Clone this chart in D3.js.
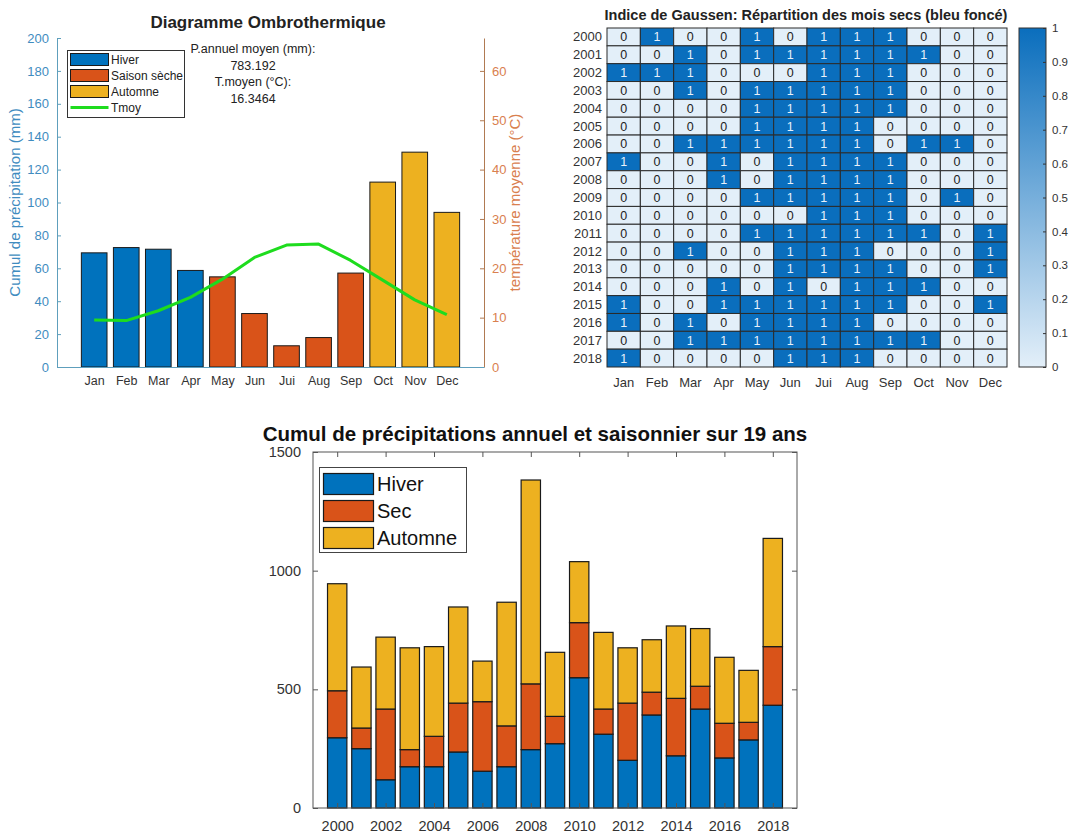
<!DOCTYPE html>
<html>
<head>
<meta charset="utf-8">
<script src="https://cdn.jsdelivr.net/npm/d3@7"></script>
<style>
  html, body { margin: 0; padding: 0; background: #fff; }
  svg { display: block; font-family: "Liberation Sans", Arial, sans-serif; }
</style>
</head>
<body>
<svg id="fig" width="1071" height="834"></svg>
<script>
// ---------- Data ----------
const months = ["Jan","Feb","Mar","Apr","May","Jun","Jui","Aug","Sep","Oct","Nov","Dec"];
const monthlyPrecip = [69.4, 72.6, 71.6, 58.7, 54.8, 32.5, 12.9, 17.9, 57.1, 112.4, 130.6, 94.0];
const monthlySeason = ["Hiver","Hiver","Hiver","Hiver","Sec","Sec","Sec","Sec","Sec","Automne","Automne","Automne"];
const monthlyTemp = [9.5, 9.4, 11.4, 14.1, 17.8, 22.2, 24.7, 24.9, 21.6, 17.6, 13.6, 10.6];
const annualMeanText = ["P.annuel moyen (mm):", "783.192", "T.moyen (°C):", "16.3464"];

const years = d3.range(2000, 2019);
// dry-month flags (1 = dry month) per year, Jan..Dec
const dryMonths = [
  [0,1,0,0,1,0,1,1,1,0,0,0],
  [0,0,1,0,1,1,1,1,1,1,0,0],
  [1,1,1,0,0,0,1,1,1,0,0,0],
  [0,0,1,0,1,1,1,1,1,0,0,0],
  [0,0,0,0,1,1,1,1,1,0,0,0],
  [0,0,0,0,1,1,1,1,0,0,0,0],
  [0,0,1,1,1,1,1,1,0,1,1,0],
  [1,0,0,1,0,1,1,1,1,0,0,0],
  [0,0,0,1,0,1,1,1,1,0,0,0],
  [0,0,0,0,1,1,1,1,1,0,1,0],
  [0,0,0,0,0,0,1,1,1,0,0,0],
  [0,0,0,0,1,1,1,1,1,1,0,1],
  [0,0,1,0,0,1,1,1,0,0,0,1],
  [0,0,0,0,0,1,1,1,1,0,0,1],
  [0,0,0,1,0,1,0,1,1,1,0,0],
  [1,0,0,1,1,1,1,1,1,0,0,1],
  [1,0,1,0,1,1,1,1,0,0,0,0],
  [0,0,1,1,1,1,1,1,1,1,0,0],
  [1,0,0,0,0,1,1,1,0,0,0,0]
];
const colorbarTicks = [0,0.1,0.2,0.3,0.4,0.5,0.6,0.7,0.8,0.9,1];

// seasonal precipitation totals per year (mm)
const hiverTotals   = [296,250,119,174,174,236,155,174,246,271,549,311,201,392,220,417,211,287,433];
const secTotals     = [198, 87,298, 72,128,206,293,172,277,115,232,106,241, 96,242, 96,146, 74,247];
const automneTotals = [451,257,303,429,378,405,171,521,859,270,257,323,233,221,305,243,278,219,456];
const seasonKeys = ["Hiver","Sec","Automne"];
const annualTicks = [0,500,1000,1500];

// ---------- Styles ----------
const C = { Hiver: "#0072BD", Sec: "#D95319", Automne: "#EDB120" };
const txt = "#333333";
const svg = d3.select("#fig");
svg.append("rect").attr("width",1071).attr("height",834).attr("fill","#fff");

// ================= Ombrothermic diagram =================
{
  const L = 57, R = 484, T = 38, B = 367;
  const x = d3.scaleLinear().domain([-0.16, 13.16]).range([L, R]);
  const yP = d3.scaleLinear().domain([0, 200]).range([B, T]);
  const yT = d3.scaleLinear().domain([0, 200/3]).range([B, T]);
  const g = svg.append("g");
  const blueAx = "#5E9FBC", blueTx = "#3F8CC0";
  const orAx = "#B07A52", orTx = "#D9804F";

  g.append("text").attr("x", 268).attr("y", 28).attr("text-anchor","middle")
    .attr("font-size", 17).attr("font-weight","bold").attr("fill","#222")
    .text("Diagramme Ombrothermique");

  const bw = 0.8;
  g.selectAll("rect.m").data(monthlyPrecip).join("rect")
    .attr("x", (d,i) => x(i + 1 - bw/2))
    .attr("width", (d,i) => x(i + 1 + bw/2) - x(i + 1 - bw/2))
    .attr("y", d => yP(d))
    .attr("height", d => yP(0) - yP(d))
    .attr("fill", (d,i) => C[monthlySeason[i]])
    .attr("stroke", "#1a1a1a").attr("stroke-width", 1);

  const line = d3.line().x((d,i) => x(i + 1)).y(d => yT(d));
  g.append("path").datum(monthlyTemp).attr("d", line)
    .attr("fill","none").attr("stroke","#1EDC1E").attr("stroke-width",3)
    .attr("stroke-linejoin","round");

  // left axis
  const axL = g.append("g").attr("transform", `translate(${L},0)`)
    .call(d3.axisLeft(yP).tickValues(d3.range(0, 201, 20)).tickSizeInner(-4).tickSizeOuter(0).tickPadding(8));
  axL.select(".domain").attr("stroke", blueAx);
  axL.selectAll(".tick line").attr("stroke", blueAx);
  axL.selectAll("text").attr("fill", blueTx).attr("font-size", 13).attr("font-family","Liberation Sans, Arial, sans-serif");

  // right axis
  const axR = g.append("g").attr("transform", `translate(${R},0)`)
    .call(d3.axisRight(yT).tickValues(d3.range(0, 61, 10)).tickSizeInner(-4).tickSizeOuter(0).tickPadding(8));
  axR.select(".domain").attr("stroke", orAx);
  axR.selectAll(".tick line").attr("stroke", orAx);
  axR.selectAll("text").attr("fill", orTx).attr("font-size", 13).attr("font-family","Liberation Sans, Arial, sans-serif");

  // bottom axis
  const axB = g.append("g").attr("transform", `translate(0,${B})`)
    .call(d3.axisBottom(x).tickValues(d3.range(1, 13)).tickFormat(i => months[i-1]).tickSize(0).tickPadding(9));
  axB.select(".domain").attr("stroke", blueAx);
  axB.selectAll("text").attr("fill", txt).attr("font-size", 12.5).attr("font-family","Liberation Sans, Arial, sans-serif");

  g.append("text").attr("transform", `translate(20,${(T+B)/2}) rotate(-90)`)
    .attr("text-anchor","middle").attr("font-size", 15).attr("fill", blueTx)
    .text("Cumul de précipitation (mm)");
  g.append("text").attr("transform", `translate(520,${(T+B)/2}) rotate(-90)`)
    .attr("text-anchor","middle").attr("font-size", 15).attr("fill", orTx)
    .text("température moyenne (°C)");

  // annotation
  annualMeanText.forEach((t, i) => {
    g.append("text").attr("x", 253).attr("y", 53 + i * 16.5).attr("text-anchor","middle")
      .attr("font-size", 12.5).attr("fill", "#222").text(t);
  });

  // legend
  const lg = g.append("g");
  lg.append("rect").attr("x", 67.5).attr("y", 50.5).attr("width", 117).attr("height", 67)
    .attr("fill","#fff").attr("stroke","#333").attr("stroke-width",1);
  const items = [["Hiver","Hiver"],["Saison sèche","Sec"],["Automne","Automne"]];
  items.forEach((it, i) => {
    const cy = 59.5 + i * 16;
    lg.append("rect").attr("x", 70.5).attr("y", cy - 6).attr("width", 38).attr("height", 12)
      .attr("fill", C[it[1]]).attr("stroke","#1a1a1a");
    lg.append("text").attr("x", 111).attr("y", cy + 4.5).attr("font-size", 12).attr("fill","#222").text(it[0]);
  });
  lg.append("line").attr("x1", 70.5).attr("x2", 108.5).attr("y1", 107.5).attr("y2", 107.5)
    .attr("stroke","#1EDC1E").attr("stroke-width",3);
  lg.append("text").attr("x", 111).attr("y", 112).attr("font-size", 12).attr("fill","#222").text("Tmoy");
}

// ================= Gaussen heatmap =================
{
  const L = 607, R = 1007, T = 28, B = 367;
  const x = d3.scaleBand().domain(months).range([L, R]);
  const y = d3.scaleBand().domain(years).range([T, B]);
  const col = d3.scaleLinear().domain([0, 1]).range(["#E3EFF9", "#0A6EBD"]);
  const g = svg.append("g");

  g.append("text").attr("x", 806).attr("y", 20).attr("text-anchor","middle")
    .attr("font-size", 14.5).attr("font-weight","bold").attr("fill","#222")
    .text("Indice de Gaussen: Répartition des mois secs (bleu foncé)");

  const cells = [];
  dryMonths.forEach((row, r) => row.forEach((v, c) => cells.push({ year: years[r], month: months[c], v })));
  g.selectAll("rect.cell").data(cells).join("rect")
    .attr("x", d => x(d.month)).attr("y", d => y(d.year))
    .attr("width", x.bandwidth()).attr("height", y.bandwidth())
    .attr("fill", d => col(d.v)).attr("stroke", "#2b2b2b").attr("stroke-width", 1);
  g.selectAll("text.cell").data(cells).join("text")
    .attr("x", d => x(d.month) + x.bandwidth()/2)
    .attr("y", d => y(d.year) + y.bandwidth()/2 + 4.5)
    .attr("text-anchor","middle").attr("font-size", 12.5)
    .attr("fill", d => d.v ? "#E8F1FA" : "#222").text(d => d.v);

  years.forEach(yr => g.append("text").attr("x", L - 5).attr("y", y(yr) + y.bandwidth()/2 + 4.5)
    .attr("text-anchor","end").attr("font-size", 13).attr("fill", txt).text(yr));
  months.forEach(m => g.append("text").attr("x", x(m) + x.bandwidth()/2).attr("y", B + 20)
    .attr("text-anchor","middle").attr("font-size", 13).attr("fill", txt).text(m));

  // colorbar
  const cbL = 1019, cbR = 1046;
  const cy = d3.scaleLinear().domain([0, 1]).range([B, T]);
  const defs = svg.append("defs");
  const grad = defs.append("linearGradient").attr("id","cbGrad")
    .attr("x1",0).attr("y1",1).attr("x2",0).attr("y2",0);
  grad.append("stop").attr("offset","0%").attr("stop-color", col(0));
  grad.append("stop").attr("offset","100%").attr("stop-color", col(1));
  g.append("rect").attr("x", cbL).attr("y", cy(1)).attr("width", cbR - cbL).attr("height", cy(0) - cy(1))
    .attr("fill","url(#cbGrad)").attr("stroke","#333").attr("stroke-width",1);
  const axC = g.append("g").attr("transform", `translate(${cbR},0)`)
    .call(d3.axisRight(cy).tickValues(colorbarTicks).tickFormat(d3.format("~g")).tickSizeInner(-3).tickSizeOuter(0).tickPadding(6));
  axC.select(".domain").remove();
  axC.selectAll(".tick line").attr("stroke","#333");
  axC.selectAll("text").attr("fill", txt).attr("font-size", 11.5).attr("font-family","Liberation Sans, Arial, sans-serif");
}

// ================= Annual stacked bars =================
{
  const L = 313, R = 797, T = 452, B = 808;
  const x = d3.scaleLinear().domain([1999, 2019]).range([L, R]);
  const y = d3.scaleLinear().domain([0, 1500]).range([B, T]);
  const g = svg.append("g");

  g.append("text").attr("x", 535).attr("y", 441).attr("text-anchor","middle")
    .attr("font-size", 20.5).attr("font-weight","bold").attr("fill","#111")
    .text("Cumul de précipitations annuel et saisonnier sur 19 ans");

  const rows = years.map((yr, i) => ({ year: yr, Hiver: hiverTotals[i], Sec: secTotals[i], Automne: automneTotals[i] }));
  const stacked = d3.stack().keys(seasonKeys)(rows);
  const bw = 0.8;
  stacked.forEach(layer => {
    g.selectAll(null).data(layer).join("rect")
      .attr("x", d => x(d.data.year - bw/2))
      .attr("width", x(2000 + bw/2) - x(2000 - bw/2))
      .attr("y", d => y(d[1]))
      .attr("height", d => y(d[0]) - y(d[1]))
      .attr("fill", C[layer.key]).attr("stroke","#1a1a1a").attr("stroke-width",1.2);
  });

  // box and axes
  const axStroke = "#555";
  g.append("rect").attr("x", L).attr("y", T).attr("width", R - L).attr("height", B - T)
    .attr("fill","none").attr("stroke", axStroke).attr("stroke-width",1);
  const xt = d3.range(2000, 2019, 2);
  const ax1 = g.append("g").attr("transform", `translate(0,${B})`)
    .call(d3.axisBottom(x).tickValues(xt).tickFormat(d3.format("d")).tickSizeInner(-5).tickSizeOuter(0).tickPadding(13));
  const ax2 = g.append("g").attr("transform", `translate(0,${T})`)
    .call(d3.axisTop(x).tickValues(xt).tickFormat("").tickSizeInner(-5).tickSizeOuter(0));
  const ax3 = g.append("g").attr("transform", `translate(${L},0)`)
    .call(d3.axisLeft(y).tickValues(annualTicks).tickFormat(d3.format("d")).tickSizeInner(-5).tickSizeOuter(0).tickPadding(12));
  const ax4 = g.append("g").attr("transform", `translate(${R},0)`)
    .call(d3.axisRight(y).tickValues(annualTicks).tickFormat("").tickSizeInner(-5).tickSizeOuter(0));
  [ax1, ax2, ax3, ax4].forEach(a => {
    a.select(".domain").remove();
    a.selectAll(".tick line").attr("stroke", axStroke);
    a.selectAll("text").attr("fill", txt).attr("font-size", 14.5).attr("font-family","Liberation Sans, Arial, sans-serif");
  });

  // legend
  const lg = g.append("g");
  lg.append("rect").attr("x", 319.5).attr("y", 467.5).attr("width", 147).attr("height", 85)
    .attr("fill","#fff").attr("stroke","#444").attr("stroke-width",1);
  seasonKeys.forEach((k, i) => {
    const cy = 484 + i * 27;
    lg.append("rect").attr("x", 323.5).attr("y", cy - 10.5).attr("width", 50).attr("height", 21)
      .attr("fill", C[k]).attr("stroke","#1a1a1a").attr("stroke-width",1.2);
    lg.append("text").attr("x", 377).attr("y", cy + 7).attr("font-size", 20).attr("fill","#111").text(k);
  });
}
</script>
</body>
</html>
